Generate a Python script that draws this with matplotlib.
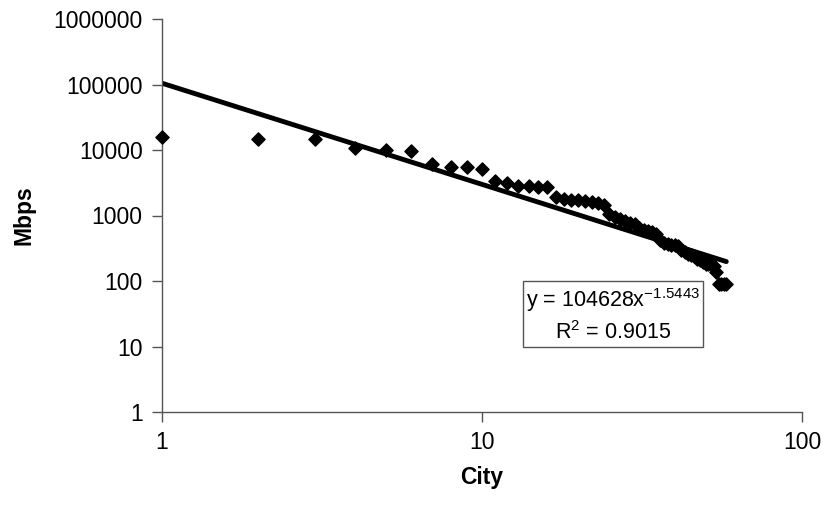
import numpy as np
from matplotlib import pyplot as plt
from matplotlib.ticker import FixedLocator, NullLocator

plt.rcParams["font.family"] = ["Liberation Sans", "DejaVu Sans"]
plt.rcParams["mathtext.fontset"] = "custom"
plt.rcParams["mathtext.rm"] = "Liberation Sans"
plt.rcParams["mathtext.it"] = "Liberation Sans"

# city rank vs bandwidth (Mbps)
city = np.arange(1, 59)
mbps = [15600, 14900, 14900, 10800, 9900, 9660, 6050, 5560, 5450, 5070,
        3360, 3100, 2850, 2850, 2700, 2680, 1940, 1800, 1750, 1700,
        1650, 1600, 1550, 1450, 1050, 950, 880, 820, 780, 740,
        650, 600, 580, 560, 520, 420, 380, 370, 360, 360,
        340, 300, 280, 260, 250, 240, 220, 210, 195, 185,
        180, 180, 170, 139, 90, 90, 90, 90]

# power trendline y = a * x^b
fit_a = 104628
fit_b = -1.5443
fit_r2 = 0.9015

fig = plt.figure(figsize=(8.24, 5.08), dpi=100)
ax = fig.add_axes([162 / 824, 1 - 412 / 508, 640 / 824, 393 / 508])

xs = np.linspace(1, city[-1], 200)
ax.plot(xs, fit_a * xs ** fit_b, color="black", lw=3.5, solid_capstyle="round", zorder=2)
ax.scatter(city, mbps, marker="D", s=45, color="black", zorder=3, clip_on=False)

ax.set_xscale("log")
ax.set_yscale("log")
ax.set_xlim(1, 100)
ax.set_ylim(1, 1000000)

ax.xaxis.set_major_locator(FixedLocator([1, 10, 100]))
ax.yaxis.set_major_locator(FixedLocator([1, 10, 100, 1000, 10000, 100000, 1000000]))
ax.xaxis.set_minor_locator(NullLocator())
ax.yaxis.set_minor_locator(NullLocator())
ax.set_xticklabels(["1", "10", "100"])
ax.set_yticklabels(["1", "10", "100", "1000", "10000", "100000", "1000000"])

for s in ["top", "right"]:
    ax.spines[s].set_visible(False)
for s in ["left", "bottom"]:
    ax.spines[s].set_color("#555555")
    ax.spines[s].set_linewidth(1)
ax.tick_params(axis="both", length=7, width=1, color="#555555", labelsize=16.5, pad=7)

ax.set_xlabel("City", fontsize=16.5, fontweight="bold", labelpad=8)
ax.set_ylabel("Mbps", fontsize=16.5, fontweight="bold", labelpad=13)

ax.text(613 / 824, 1 - 315 / 508,
        "y = %d$\\mathregular{x^{%.4f}}$\nR$\\mathregular{^{2}}$ = %.4f" % (fit_a, fit_b, fit_r2),
        transform=fig.transFigure, ha="center", va="center", fontsize=15.5,
        multialignment="center", linespacing=1.35,
        bbox=dict(boxstyle="square,pad=0.15", facecolor="white", edgecolor="#555555", lw=1))

fig.savefig("out.png", dpi=100)
